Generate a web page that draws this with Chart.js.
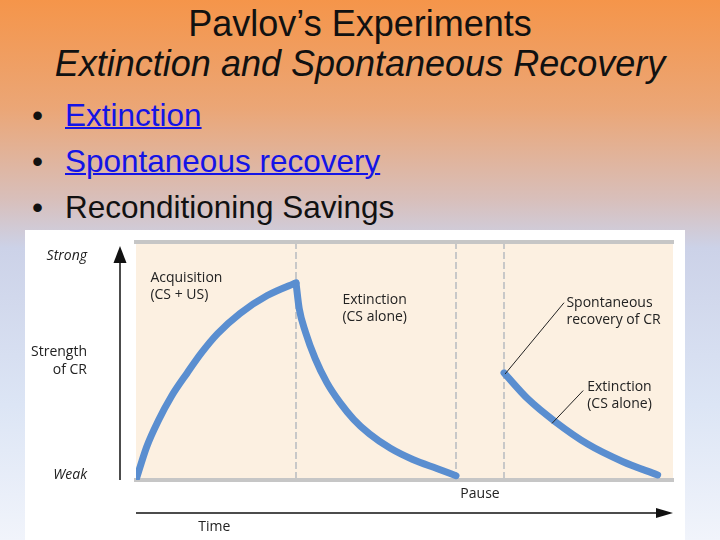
<!DOCTYPE html>
<html>
<head>
<meta charset="utf-8">
<script src="https://cdn.jsdelivr.net/npm/chart.js@4.4.0/dist/chart.umd.min.js"></script>
<style>
  body {
    margin: 0; width: 720px; height: 540px; overflow: hidden; position: relative;
    background: linear-gradient(to bottom, #f5954a 0%, #eba676 20%, #d8bfbb 37%, #ccd2e8 46%, #dce5f5 75%, #f1f4fb 100%);
    font-family: "Liberation Sans", Arial, sans-serif;
  }
  .title {
    position: absolute; left: 0; top: 4px; width: 720px;
    text-align: center; font-size: 36px; line-height: 40px; color: #111;
  }
  ul.bullets {
    position: absolute; left: 0; top: 92px; margin: 0; padding: 0;
    list-style: none; font-size: 31.5px; line-height: 46px; color: #111;
  }
  ul.bullets li { position: relative; padding-left: 65px; }
  ul.bullets li::before { content: '\2022'; position: absolute; left: 32px; }
  ul.bullets a { color: #1414e6; text-decoration: underline; text-decoration-thickness: 2px; }
  #box { position: absolute; left: 25px; top: 230px; width: 660px; height: 310px; background: #fff; }
</style>
</head>
<body>
<div class="title">Pavlov’s Experiments<br><i>Extinction and Spontaneous Recovery</i></div>
<ul class="bullets">
  <li><a href="#">Extinction</a></li>
  <li><a href="#">Spontaneous recovery</a></li>
  <li>Reconditioning Savings</li>
</ul>
<div id="box"><canvas id="curve" width="660" height="310"></canvas></div>

<script>
// time in arbitrary units, strength 0 (weak) .. 100 (strong)
const acqTime = [0, 0.67, 1.4, 2.2, 3.2, 4.1, 5.1, 6.5, 8.2, 9.8, 10];
const acqStrength = [0, 14, 25, 35, 45, 53.5, 61.5, 70, 77.5, 82.3, 82.8];
const extTime = [10, 10.2, 10.6, 11.2, 11.92, 12.75, 13.6, 14.6, 15.9, 17.3, 18.8, 20];
const extStrength = [82.8, 72, 62, 51, 41, 32.5, 25.5, 19.3, 13.3, 8.6, 4.8, 1.8];
const recTime = [23, 24.5, 26.2, 28.25, 30.4, 32.6];
const recStrength = [45, 34, 24.5, 15, 7.8, 2.1];

const phaseBounds = [10, 20, 23];
const pauseTick = 21.5;
const strengthTicks = [2, 50, 94];
const strengthLabels = ['Weak', ['Strength', 'of CR'], 'Strong'];

const notes = [
    { lines: ['Acquisition', '(CS + US)'], x: 0.9, y: 85 },
    { lines: ['Extinction', '(CS alone)'], x: 12.9, y: 75.6 },
    { lines: ['Spontaneous', 'recovery of CR'], x: 26.9, y: 74.4 },
    { lines: ['Extinction', '(CS alone)'], x: 28.2, y: 39 }
];
const leaders = [
    { from: [23.06, 44.5], to: [26.75, 74.5] },
    { from: [26.0, 23.8], to: [27.95, 37.6] }
];

const lineBlue = '#5a8ed0';
const chartFont = 'Open Sans';

function toPoints(xs, ys) {
    return xs.map((t, i) => ({ x: t, y: ys[i] }));
}

function curveSet(xs, ys) {
    return {
        data: toPoints(xs, ys),
        borderColor: lineBlue,
        borderWidth: 7,
        pointRadius: 0,
        cubicInterpolationMode: 'monotone',
        borderCapStyle: 'round',
        borderJoinStyle: 'round'
    };
}

const decor = {
    id: 'decor',
    beforeDraw(chart) {
        const { ctx, chartArea: a } = chart;
        ctx.save();
        ctx.fillStyle = '#fcf0e1';
        ctx.fillRect(a.left, a.top, a.right - a.left, a.bottom - a.top);
        ctx.restore();
    },
    afterDraw(chart) {
        const { ctx, chartArea: a, scales: { x, y } } = chart;
        ctx.save();
        ctx.strokeStyle = '#111';
        ctx.fillStyle = '#111';

        // strength arrow
        const ax = a.left - 16;
        ctx.lineWidth = 1.5;
        ctx.beginPath();
        ctx.moveTo(ax, a.bottom);
        ctx.lineTo(ax, a.top + 16);
        ctx.stroke();
        ctx.beginPath();
        ctx.moveTo(ax, a.top + 4);
        ctx.lineTo(ax - 6.5, a.top + 21);
        ctx.lineTo(ax + 6.5, a.top + 21);
        ctx.closePath();
        ctx.fill();

        // time arrow
        const ty = a.bottom + 33;
        ctx.beginPath();
        ctx.moveTo(a.left, ty);
        ctx.lineTo(a.right - 12, ty);
        ctx.stroke();
        ctx.beginPath();
        ctx.moveTo(a.right, ty);
        ctx.lineTo(a.right - 17, ty - 5);
        ctx.lineTo(a.right - 17, ty + 5);
        ctx.closePath();
        ctx.fill();

        ctx.font = '14px "' + chartFont + '"';
        ctx.textBaseline = 'middle';
        ctx.textAlign = 'center';
        ctx.fillStyle = '#222';
        ctx.fillText('Time', x.getPixelForValue(4.9), a.bottom + 47);

        // annotations
        ctx.textAlign = 'left';
        notes.forEach(n => {
            const px = x.getPixelForValue(n.x);
            const py = y.getPixelForValue(n.y);
            n.lines.forEach((t, i) => ctx.fillText(t, px, py + i * 17));
        });

        ctx.strokeStyle = '#222';
        ctx.lineWidth = 1;
        leaders.forEach(l => {
            ctx.beginPath();
            ctx.moveTo(x.getPixelForValue(l.from[0]), y.getPixelForValue(l.from[1]));
            ctx.lineTo(x.getPixelForValue(l.to[0]), y.getPixelForValue(l.to[1]));
            ctx.stroke();
        });
        ctx.restore();
    }
};

new Chart(document.getElementById('curve'), {
    type: 'line',
    data: {
        datasets: [
            curveSet(acqTime, acqStrength),
            curveSet(extTime, extStrength),
            curveSet(recTime, recStrength)
        ]
    },
    options: {
        responsive: false,
        animation: false,
        layout: { padding: { left: 0, right: 12, top: 0, bottom: 0 } },
        plugins: { legend: { display: false }, tooltip: { enabled: false } },
        scales: {
            x: {
                type: 'linear',
                position: 'bottom',
                min: 0,
                max: 33.56,
                afterBuildTicks: scale => {
                    scale.ticks = [10, 20, pauseTick, 23].map(v => ({ value: v }));
                },
                afterFit: scale => {
                    scale.height = 60;
                    scale.paddingLeft = 0;
                    scale.paddingRight = 0;
                },
                grid: {
                    drawTicks: false,
                    lineWidth: 2,
                    color: ctx => (ctx.tick && ctx.tick.value === pauseTick) ? 'rgba(0,0,0,0)' : '#c8c8c8'
                },
                border: { display: true, color: '#c6c6c6', width: 4, dash: [7, 3] },
                ticks: {
                    autoSkip: false,
                    maxRotation: 0,
                    padding: 6,
                    color: '#222',
                    font: { family: chartFont, size: 14 },
                    callback: v => v === pauseTick ? 'Pause' : ''
                }
            },
            xTop: {
                type: 'linear',
                axis: 'x',
                position: 'top',
                min: 0,
                max: 33.56,
                afterFit: scale => { scale.height = 12; },
                ticks: { display: false },
                grid: { display: false },
                border: { display: true, color: '#c6c6c6', width: 4 }
            },
            y: {
                min: 0,
                max: 100,
                afterBuildTicks: scale => {
                    scale.ticks = strengthTicks.map(v => ({ value: v }));
                },
                afterFit: scale => {
                    scale.width = 111;
                    scale.paddingTop = 0;
                    scale.paddingBottom = 0;
                },
                grid: { display: false },
                border: { display: false },
                ticks: {
                    autoSkip: false,
                    padding: 41,
                    color: '#222',
                    font: ctx => ({
                        family: chartFont,
                        size: 14,
                        lineHeight: 1.3,
                        style: (ctx.tick && ctx.tick.value === 50) ? 'normal' : 'italic'
                    }),
                    callback: v => strengthLabels[strengthTicks.indexOf(v)]
                }
            }
        }
    },
    plugins: [decor]
});
</script>
</body>
</html>
